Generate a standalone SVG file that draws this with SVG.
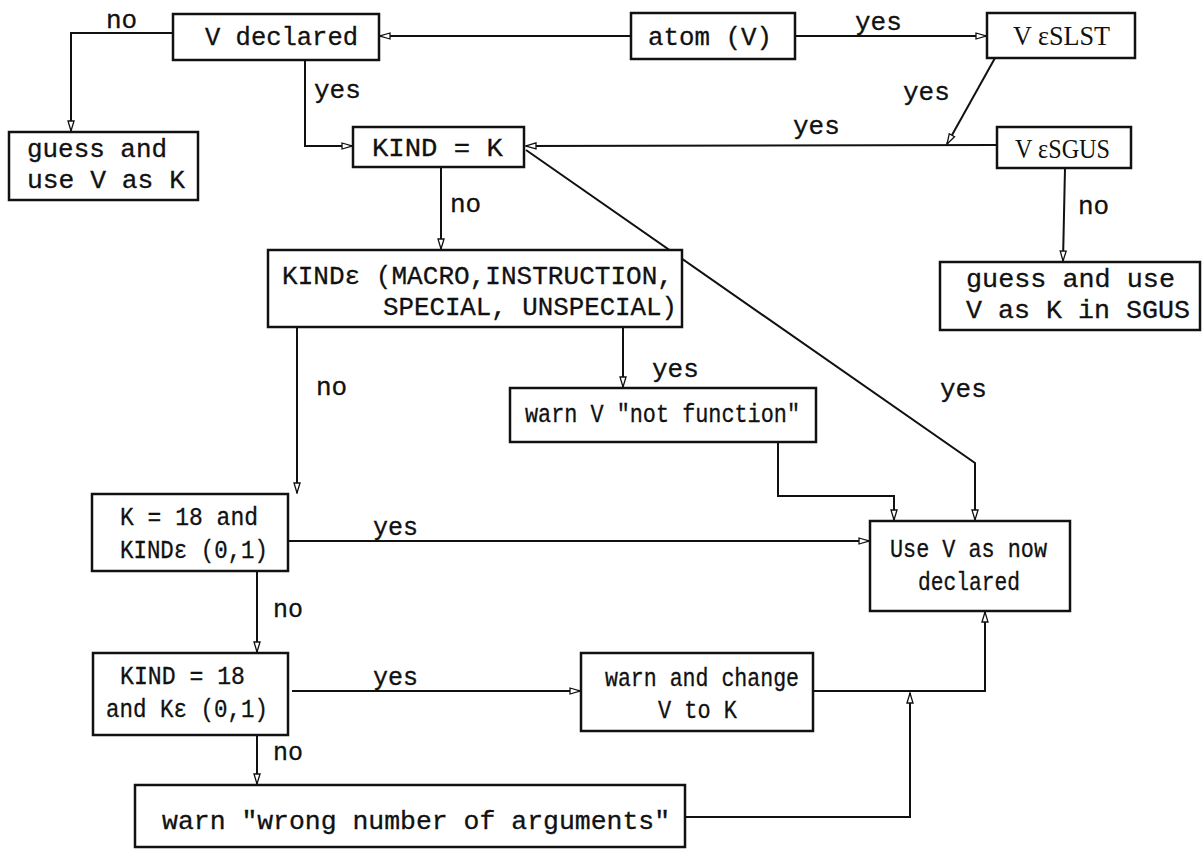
<svg xmlns="http://www.w3.org/2000/svg" width="1202" height="851" viewBox="0 0 1202 851">
<style>
.box{fill:#fff;stroke:#111;stroke-width:2.5}
.t{font-family:"Liberation Mono","DejaVu Sans Mono",monospace;font-size:26px;fill:#111;stroke:#111;stroke-width:0.3}
.u{font-family:"Liberation Mono","DejaVu Sans Mono",monospace;font-size:25px;fill:#111;stroke:#111;stroke-width:0.3}
.s{font-family:"Liberation Serif","DejaVu Serif",serif;font-size:27px;fill:#111}
.c{fill:none;stroke:#111;stroke-width:2}
.c.a{marker-end:url(#ah)}
</style>
<defs>
<marker id="ah" viewBox="0 0 12 8" refX="11" refY="4" markerWidth="12" markerHeight="8" markerUnits="userSpaceOnUse" orient="auto">
<path d="M1,1 L11,4 L1,7 Z" fill="#fff" stroke="#111" stroke-width="1.3"/>
</marker>
</defs>
<rect width="1202" height="851" fill="#fff"/>
<g id="connectors">
<path class="c a" d="M631,36 L380,36"/>
<path class="c a" d="M795,36 L986,36"/>
<path class="c a" d="M173,33 L71,33 L71,131"/>
<path class="c a" d="M305,60 L305,146 L352,146"/>
<path class="c a" d="M995,58 L947,144"/>
<path class="c a" d="M997,145 L526,146"/>
<path class="c a" d="M1065,168 L1063,261"/>
<path class="c a" d="M526,150 L975,463 L975,520"/>
<path class="c a" d="M441,167 L441,249"/>
<path class="c a" d="M297,327 L297,493"/>
<path class="c a" d="M623,327 L623,387"/>
<path class="c a" d="M778,442 L778,496 L894,496 L894,520"/>
<path class="c a" d="M288,541 L869,541"/>
<path class="c a" d="M257,571 L257,652"/>
<path class="c a" d="M292,691 L580,691"/>
<path class="c a" d="M257,735 L257,784"/>
<path class="c a" d="M813,691 L985,691 L985,612"/>
<path class="c a" d="M685,817 L910,817 L910,693"/>
<g class="t">
<text x="106" y="28">no</text>
<text x="314" y="98">yes</text>
<text x="855" y="30">yes</text>
<text x="903" y="100">yes</text>
<text x="793" y="134">yes</text>
<text x="1078" y="214">no</text>
<text x="450" y="212">no</text>
<text x="316" y="395">no</text>
<text x="652" y="377">yes</text>
<text x="940" y="397">yes</text>
</g>
<g class="u">
<text x="373" y="535">yes</text>
<text x="273" y="617">no</text>
<text x="373" y="685">yes</text>
<text x="273" y="760">no</text>
</g>
</g>
<g id="v-declared"><rect class="box" x="173" y="14" width="206" height="46"/><text class="t" x="205" y="45" textLength="153" lengthAdjust="spacingAndGlyphs">V declared</text></g>
<g id="atom"><rect class="box" x="631" y="13" width="164" height="46"/><text class="t" x="648" y="45" textLength="124" lengthAdjust="spacingAndGlyphs">atom (V)</text></g>
<g id="slst"><rect class="box" x="987" y="13" width="148" height="45"/><text class="s" x="1013" y="45" textLength="97" lengthAdjust="spacingAndGlyphs">V εSLST</text></g>
<g id="guess1"><rect class="box" x="9" y="132" width="189" height="68"/><text class="t" x="27" y="157" textLength="140" lengthAdjust="spacingAndGlyphs">guess and</text><text class="t" x="27" y="188" textLength="158" lengthAdjust="spacingAndGlyphs">use V as K</text></g>
<g id="kind-k"><rect class="box" x="353" y="127" width="171" height="40"/><text class="t" x="372" y="156" textLength="131" lengthAdjust="spacingAndGlyphs">KIND = K</text></g>
<g id="sgus"><rect class="box" x="997" y="127" width="134" height="41"/><text class="s" x="1015" y="158" textLength="95" lengthAdjust="spacingAndGlyphs">V εSGUS</text></g>
<g id="guess2"><rect class="box" x="940" y="262" width="260" height="68"/><text class="t" x="966" y="287" textLength="209" lengthAdjust="spacingAndGlyphs">guess and use</text><text class="t" x="966" y="318" textLength="224" lengthAdjust="spacingAndGlyphs">V as K in SGUS</text></g>
<g id="kind-in"><rect class="box" x="268" y="250" width="414" height="77"/><text class="t" x="282" y="284" textLength="391" lengthAdjust="spacingAndGlyphs">KINDε (MACRO,INSTRUCTION,</text><text class="t" x="383" y="315" textLength="294" lengthAdjust="spacingAndGlyphs">SPECIAL, UNSPECIAL)</text></g>
<g id="warn-v"><rect class="box" x="510" y="388" width="306" height="54"/><text class="u" x="525" y="422" textLength="275" lengthAdjust="spacingAndGlyphs">warn V "not function"</text></g>
<g id="use-v"><rect class="box" x="870" y="521" width="200" height="90"/><text class="u" x="890" y="557" textLength="157" lengthAdjust="spacingAndGlyphs">Use V as now</text><text class="u" x="918" y="590" textLength="102" lengthAdjust="spacingAndGlyphs">declared</text></g>
<g id="k18"><rect class="box" x="92" y="494" width="196" height="77"/><text class="u" x="120" y="525" textLength="138" lengthAdjust="spacingAndGlyphs">K = 18 and</text><text class="u" x="120" y="558" textLength="148" lengthAdjust="spacingAndGlyphs">KINDε (0,1)</text></g>
<g id="kind18"><rect class="box" x="93" y="653" width="195" height="82"/><text class="u" x="120" y="684" textLength="125" lengthAdjust="spacingAndGlyphs">KIND = 18</text><text class="u" x="106" y="717" textLength="162" lengthAdjust="spacingAndGlyphs">and Kε (0,1)</text></g>
<g id="warn-change"><rect class="box" x="581" y="653" width="232" height="78"/><text class="u" x="605" y="686" textLength="194" lengthAdjust="spacingAndGlyphs">warn and change</text><text class="u" x="658" y="718" textLength="79" lengthAdjust="spacingAndGlyphs">V to K</text></g>
<g id="warn-wrong"><rect class="box" x="135" y="785" width="550" height="62"/><text class="u" x="162" y="829" textLength="508" lengthAdjust="spacingAndGlyphs">warn "wrong number of arguments"</text></g>
</svg>
